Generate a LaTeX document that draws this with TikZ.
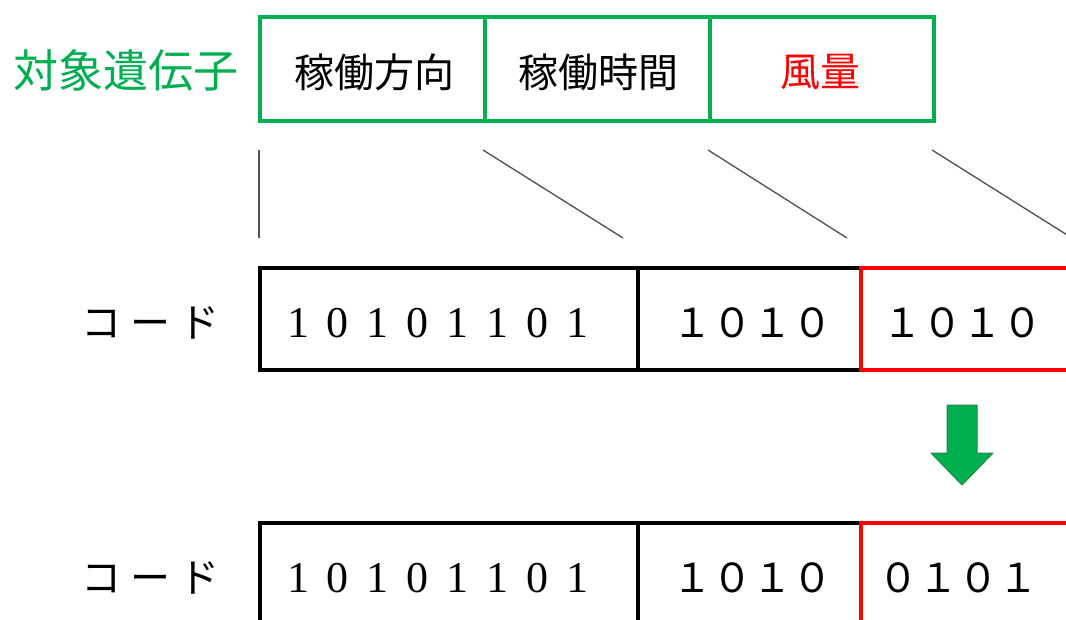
\documentclass[tikz,border=0pt]{standalone}
\usepackage{fontspec}
\newfontfamily\jp{Noto Sans CJK JP}
\newfontfamily\sdig{Liberation Serif}
\newcommand{\gp}{\hspace{18pt}}
\newcommand{\kgp}{\hspace{9pt}}
\definecolor{xgreen}{RGB}{0,176,80}
\definecolor{xgreendark}{RGB}{30,140,70}
\definecolor{xred}{RGB}{255,0,0}
\definecolor{xgray}{RGB}{80,80,80}
\begin{document}
\begin{tikzpicture}[x=1pt,y=-1pt,
  genebox/.style={draw=xgreen,line width=3.5pt,minimum height=104pt,inner sep=0pt,anchor=north west,font=\jp\fontsize{40}{40}\selectfont},
  codebox/.style={draw=black,line width=3.5pt,minimum height=102pt,inner sep=0pt,anchor=north west},
  redbox/.style={codebox,draw=xred},
  lbl/.style={font=\jp\fontsize{40}{40}\selectfont,inner sep=0pt},
  serifdig/.style={font=\sdig\fontsize{44}{44}\selectfont,inner sep=0pt},
  fwdig/.style={font=\jp\fontsize{40}{40}\selectfont,inner sep=0pt},
  guide/.style={draw=xgray,line width=1.3pt}]
\useasboundingbox (0,0) rectangle (1066,619);
\clip (0,0) rectangle (1066,619);
% gene row
\node[lbl,text=xgreen,font=\jp\fontsize{45}{45}\selectfont] (title) at (126,70) {対象遺伝子};
\node[genebox,minimum width=225pt] (g1) at (258,15) {};
\node[genebox,minimum width=225pt] (g2) at (483,15) {};
\node[genebox,minimum width=224pt] (g3) at (708,15) {};
\node[lbl] (t1) at (374,72) {稼働方向};
\node[lbl] (t2) at (598,72) {稼働時間};
\node[lbl,text=xred] (t3) at (820,72) {風量};
% guide lines
\coordinate (a1) at (259,150); \coordinate (b1) at (259,238);
\coordinate (a2) at (483,150); \coordinate (b2) at (623,238);
\coordinate (a3) at (708,150); \coordinate (b3) at (847,238);
\coordinate (a4) at (932,150); \coordinate (b4) at (1072,238);
\draw[guide] (a1) -- (b1);
\draw[guide] (a2) -- (b2);
\draw[guide] (a3) -- (b3);
\draw[guide] (a4) -- (b4);
% code row 1
\node[lbl] (k1) at (150,323) {コ\kgp ー\kgp ド};
\node[codebox,minimum width=378pt] (c1) at (258,266) {};
\node[codebox,minimum width=223pt] (c2) at (636,266) {};
\node[redbox,minimum width=240pt] (c3) at (859,266) {};
\node[serifdig] (n1) at (438,323) {1\gp0\gp1\gp0\gp1\gp1\gp0\gp1};
\node[fwdig] (n2) at (752,323) {１０１０};
\node[fwdig] (n3) at (962,323) {１０１０};
% arrow
\draw[fill=xgreen,draw=xgreendark,line width=1pt]
  (947,405) -- (977,405) -- (977,453) -- (993,453) -- (962,485) -- (931,453) -- (947,453) -- cycle;
% code row 2
\node[lbl] (k2) at (150,578) {コ\kgp ー\kgp ド};
\node[codebox,minimum width=378pt] (d1) at (258,521) {};
\node[codebox,minimum width=223pt] (d2) at (636,521) {};
\node[redbox,minimum width=240pt] (d3) at (859,521) {};
\node[serifdig] (m1) at (438,578) {1\gp0\gp1\gp0\gp1\gp1\gp0\gp1};
\node[fwdig] (m2) at (752,578) {１０１０};
\node[fwdig] (m3) at (958,578) {０１０１};
\end{tikzpicture}
\end{document}
